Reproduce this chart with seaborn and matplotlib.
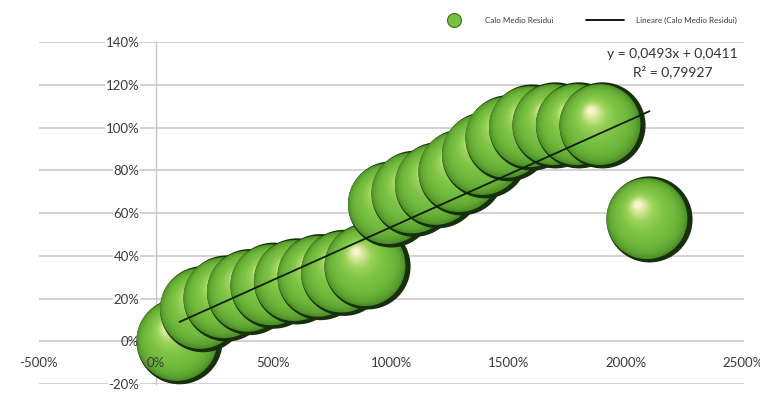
import numpy as np
import pandas as pd
import matplotlib
matplotlib.use("Agg")
import matplotlib.pyplot as plt
import matplotlib.transforms as mtransforms
from matplotlib.colors import LinearSegmentedColormap
from matplotlib.lines import Line2D
import seaborn as sns

# ---- data ---------------------------------------------------------------
# x is stored as a fraction (1 = 100 %), y as a fraction as well
x_values = [1, 2, 3, 4, 5, 6, 7, 8, 9, 10, 11, 12, 13, 14, 15, 16, 17, 18, 19, 21]
y_values = [0.00, 0.15, 0.20, 0.23, 0.26, 0.28, 0.30, 0.32, 0.35,
            0.64, 0.69, 0.73, 0.79, 0.87, 0.95, 1.00, 1.01, 1.01, 1.01, 0.57]
x_tick_values = [-5, 0, 5, 10, 15, 20, 25]
y_tick_values = [-0.2, 0.0, 0.2, 0.4, 0.6, 0.8, 1.0, 1.2, 1.4]
series_label = "Calo Medio Residui"
trend_label = "Lineare (Calo Medio Residui)"
trend_slope = 0.0493
trend_intercept = 0.0411
trend_r2 = 0.79927

df = pd.DataFrame({"x": x_values, "y": y_values})

sns.set_theme(style="white")
plt.rcParams["font.family"] = ["Lato", "DejaVu Sans"]

fig = plt.figure(figsize=(7.6, 3.93), dpi=100)
ax = fig.add_axes([0.0507, 0.0229, 0.9276, 0.8702])
ax.set_xlim(-5, 25)
ax.set_ylim(-0.2, 1.4)
ax.set_axisbelow(False)

grid_color = "#cdc4c4"
for yv in y_tick_values:
    ax.axhline(yv, color=grid_color, lw=1.1, zorder=0.5)

for side in ["top", "right", "bottom"]:
    ax.spines[side].set_visible(False)
ax.spines["left"].set_position(("data", 0))
ax.spines["bottom"].set_position(("data", 0))
ax.spines["left"].set_color(grid_color)
ax.spines["left"].set_linewidth(1.0)
ax.spines["left"].set_zorder(0.6)

# ---- 3-D looking bubbles ------------------------------------------------
sphere_cmap = LinearSegmentedColormap.from_list(
    "sphere",
    [(0.00, "#4e8f27"), (0.08, "#5fa632"), (0.25, "#6fb83c"),
     (0.50, "#7fc446"), (0.72, "#9bd25b"), (0.87, "#cde58c"),
     (1.00, "#f7f4cc")])
shadow_color = "#15300a"
bubble_diam_pt = 62.0
n_layers = 30
light_dir = np.array([-0.22, 0.34])
R = bubble_diam_pt / 2
inner_frac = 0.94                      # body radius inside the dark rim
base_shift = np.array([-(1 - inner_frac), 0.02]) * R


def shifted(dx, dy):
    return mtransforms.offset_copy(ax.transData, fig=fig, x=dx, y=dy,
                                   units="points")


for _, row in df.iterrows():
    # dark rim of the bubble (visible mostly on the shaded right side)
    sns.scatterplot(x=[row.x], y=[row.y], s=bubble_diam_pt ** 2,
                    color=shadow_color, edgecolor="none", linewidth=0,
                    ax=ax, zorder=1.5, clip_on=False, legend=False)
    # body and shading, shrinking towards the highlight
    for k in range(n_layers):
        t = k / (n_layers - 1)
        r = R * inner_frac * (1 - 0.92 * t)
        dx, dy = base_shift + light_dir * R * inner_frac * t
        ax.scatter([row.x], [row.y], s=(2 * r) ** 2, color=sphere_cmap(t),
                   edgecolors="none", linewidths=0, transform=shifted(dx, dy),
                   zorder=1.5, clip_on=False)

# ---- linear trend -------------------------------------------------------
x_line = np.array([df.x.min(), df.x.max()], dtype=float)
sns.lineplot(x=x_line, y=trend_slope * x_line + trend_intercept,
             color="#0f1f0c", lw=1.3, ax=ax, zorder=2.2)


def it_num(v, d):
    return f"{v:.{d}f}".replace(".", ",")


eq_text = (f"y = {it_num(trend_slope, 4)}x + {it_num(trend_intercept, 4)}\n"
           f"R\u00b2 = {it_num(trend_r2, 5)}")
ax.text(0.899, 0.938, eq_text, transform=ax.transAxes, ha="center",
        va="center", fontsize=10, color="#333333", linespacing=1.45,
        zorder=3)

# ---- ticks --------------------------------------------------------------
ax.set_xticks(x_tick_values)
ax.set_xticklabels([f"{v * 100:.0f}%" for v in x_tick_values])
ax.set_yticks(y_tick_values)
ax.set_yticklabels([f"{v * 100:.0f}%" for v in y_tick_values])
ax.tick_params(axis="x", length=0, pad=11, labelsize=9.5, labelcolor="#3a3a3a")
ax.tick_params(axis="y", length=0, pad=12, labelsize=9.5, labelcolor="#3a3a3a")
for lbl, v in zip(ax.get_yticklabels(), y_tick_values):
    if v != 0:
        lbl.set_bbox(dict(facecolor="white", edgecolor="none", pad=0.6))
ax.set_xlabel("")
ax.set_ylabel("")

# ---- legend -------------------------------------------------------------
handles = [
    Line2D([], [], ls="", marker="o", markersize=10,
           markerfacecolor="#78bf42", markeredgecolor="#3a7017",
           markeredgewidth=0.8),
    Line2D([], [], color="black", lw=1.3),
]
fig.legend(handles, [series_label, trend_label], loc="center",
           bbox_to_anchor=(0.771, 0.947), ncol=2, frameon=False,
           fontsize=5.8, handlelength=4.7, handletextpad=1.5,
           columnspacing=4.0, labelcolor="#3a3a3a")

fig.savefig("out.png", dpi=100)
